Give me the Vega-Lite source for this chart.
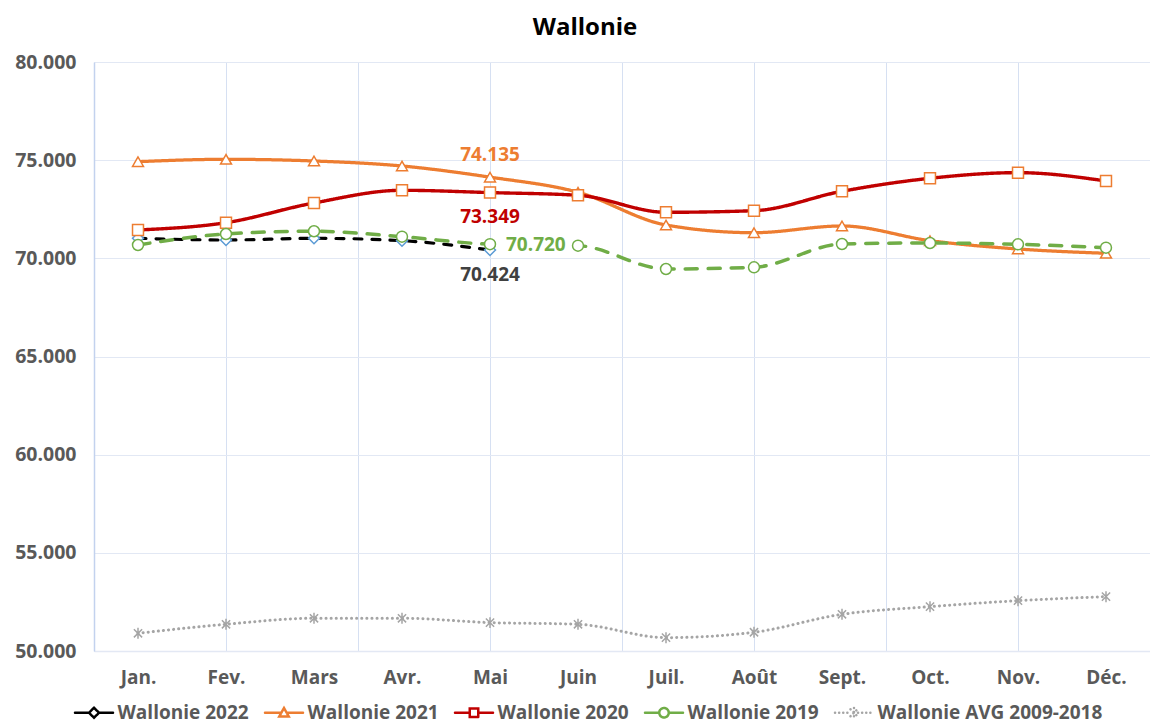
{
  "$schema": "https://vega.github.io/schema/vega-lite/v6.json",
  "width": 1056,
  "height": 589,
  "autosize": {"type": "none"},
  "padding": {"left": 94, "top": 62, "right": 0, "bottom": 73},
  "background": "white",
  "title": {"text": "Wallonie", "fontSize": 24, "font": "Open Sans", "fontWeight": "bold", "color": "#000000", "anchor": "middle", "frame": "group", "dx": -37, "dy": 33, "offset": 26, "baseline": "alphabetic"},
  "config": {
    "locale": {"number": {"decimal": ",", "thousands": ".", "grouping": [3], "currency": ["", " €"]}},
    "view": {"stroke": null},
    "font": "Open Sans"
  },
  "data": {"values": [
    {"series": "Wallonie 2022", "month": "Jan.", "m": 1, "value": 71020},
    {"series": "Wallonie 2022", "month": "Fev.", "m": 2, "value": 70934},
    {"series": "Wallonie 2022", "month": "Mars", "m": 3, "value": 71020},
    {"series": "Wallonie 2022", "month": "Avr.", "m": 4, "value": 70899},
    {"series": "Wallonie 2022", "month": "Mai", "m": 5, "value": 70424},
    {"series": "Wallonie 2021", "month": "Jan.", "m": 1, "value": 74924},
    {"series": "Wallonie 2021", "month": "Fev.", "m": 2, "value": 75044},
    {"series": "Wallonie 2021", "month": "Mars", "m": 3, "value": 74958},
    {"series": "Wallonie 2021", "month": "Avr.", "m": 4, "value": 74703},
    {"series": "Wallonie 2021", "month": "Mai", "m": 5, "value": 74135},
    {"series": "Wallonie 2021", "month": "Juin", "m": 6, "value": 73364},
    {"series": "Wallonie 2021", "month": "Juil.", "m": 7, "value": 71698},
    {"series": "Wallonie 2021", "month": "Août", "m": 8, "value": 71306},
    {"series": "Wallonie 2021", "month": "Sept.", "m": 9, "value": 71648},
    {"series": "Wallonie 2021", "month": "Oct.", "m": 10, "value": 70899},
    {"series": "Wallonie 2021", "month": "Nov.", "m": 11, "value": 70476},
    {"series": "Wallonie 2021", "month": "Déc.", "m": 12, "value": 70257},
    {"series": "Wallonie 2020", "month": "Jan.", "m": 1, "value": 71444},
    {"series": "Wallonie 2020", "month": "Fev.", "m": 2, "value": 71816},
    {"series": "Wallonie 2020", "month": "Mars", "m": 3, "value": 72819},
    {"series": "Wallonie 2020", "month": "Avr.", "m": 4, "value": 73465},
    {"series": "Wallonie 2020", "month": "Mai", "m": 5, "value": 73349},
    {"series": "Wallonie 2020", "month": "Juin", "m": 6, "value": 73211},
    {"series": "Wallonie 2020", "month": "Juil.", "m": 7, "value": 72345},
    {"series": "Wallonie 2020", "month": "Août", "m": 8, "value": 72427},
    {"series": "Wallonie 2020", "month": "Sept.", "m": 9, "value": 73414},
    {"series": "Wallonie 2020", "month": "Oct.", "m": 10, "value": 74077},
    {"series": "Wallonie 2020", "month": "Nov.", "m": 11, "value": 74364},
    {"series": "Wallonie 2020", "month": "Déc.", "m": 12, "value": 73939},
    {"series": "Wallonie 2019", "month": "Jan.", "m": 1, "value": 70680},
    {"series": "Wallonie 2019", "month": "Fev.", "m": 2, "value": 71240},
    {"series": "Wallonie 2019", "month": "Mars", "m": 3, "value": 71380},
    {"series": "Wallonie 2019", "month": "Avr.", "m": 4, "value": 71103},
    {"series": "Wallonie 2019", "month": "Mai", "m": 5, "value": 70720},
    {"series": "Wallonie 2019", "month": "Juin", "m": 6, "value": 70646},
    {"series": "Wallonie 2019", "month": "Juil.", "m": 7, "value": 69457},
    {"series": "Wallonie 2019", "month": "Août", "m": 8, "value": 69544},
    {"series": "Wallonie 2019", "month": "Sept.", "m": 9, "value": 70731},
    {"series": "Wallonie 2019", "month": "Oct.", "m": 10, "value": 70782},
    {"series": "Wallonie 2019", "month": "Nov.", "m": 11, "value": 70714},
    {"series": "Wallonie 2019", "month": "Déc.", "m": 12, "value": 70543},
    {"series": "Wallonie AVG 2009-2018", "month": "Jan.", "m": 1, "value": 50903},
    {"series": "Wallonie AVG 2009-2018", "month": "Fev.", "m": 2, "value": 51361},
    {"series": "Wallonie AVG 2009-2018", "month": "Mars", "m": 3, "value": 51667},
    {"series": "Wallonie AVG 2009-2018", "month": "Avr.", "m": 4, "value": 51667},
    {"series": "Wallonie AVG 2009-2018", "month": "Mai", "m": 5, "value": 51446},
    {"series": "Wallonie AVG 2009-2018", "month": "Juin", "m": 6, "value": 51361},
    {"series": "Wallonie AVG 2009-2018", "month": "Juil.", "m": 7, "value": 50680},
    {"series": "Wallonie AVG 2009-2018", "month": "Août", "m": 8, "value": 50955},
    {"series": "Wallonie AVG 2009-2018", "month": "Sept.", "m": 9, "value": 51871},
    {"series": "Wallonie AVG 2009-2018", "month": "Oct.", "m": 10, "value": 52258},
    {"series": "Wallonie AVG 2009-2018", "month": "Nov.", "m": 11, "value": 52564},
    {"series": "Wallonie AVG 2009-2018", "month": "Déc.", "m": 12, "value": 52768}
  ]},
  "encoding": {
    "x": {
      "field": "m", "type": "quantitative",
      "scale": {"domain": [0.5, 12.5], "nice": false, "zero": false},
      "axis": {
        "title": null,
        "values": [0.5, 1, 2, 3, 3.5, 4, 5, 6, 6.5, 7, 8, 9, 9.5, 10, 11, 12, 12.5],
        "labelExpr": "datum.value % 1 === 0 ? ['','Jan.','Fev.','Mars','Avr.','Mai','Juin','Juil.','Août','Sept.','Oct.','Nov.','Déc.'][datum.value] : ''",
        "ticks": false,
        "grid": true,
        "gridColor": "#d6e0f2",
        "gridWidth": 1,
        "gridOpacity": {"condition": {"test": "(datum.value - 0.5) % 1.5 === 0", "value": 1}, "value": 0},
        "domainColor": "#e3e8f4",
        "domainWidth": 1.5,
        "labelFont": "Open Sans",
        "labelFontSize": 19,
        "labelFontWeight": "bold",
        "labelColor": "#595959",
        "labelPadding": 17,
        "labelFlush": false,
        "labelOverlap": false
      }
    },
    "y": {
      "field": "value", "type": "quantitative",
      "scale": {"domain": [50000, 80000], "nice": false, "zero": false},
      "axis": {
        "title": null,
        "values": [50000, 55000, 60000, 65000, 70000, 75000, 80000],
        "format": ",.0f",
        "ticks": false,
        "grid": true,
        "gridColor": "#e2e8f4",
        "gridWidth": 1,
        "domainColor": "#c3d2ee",
        "domainWidth": 1.5,
        "labelFont": "Open Sans",
        "labelFontSize": 19.5,
        "labelFontWeight": "bold",
        "labelColor": "#595959",
        "labelPadding": 18,
        "labelFlush": false
      }
    }
  },
  "layer": [
    {
      "mark": {"type": "line", "interpolate": "monotone", "strokeCap": "round", "strokeJoin": "round"},
      "encoding": {
        "color": {
          "field": "series", "type": "nominal",
          "scale": {"domain": ["Wallonie 2022", "Wallonie 2021", "Wallonie 2020", "Wallonie 2019", "Wallonie AVG 2009-2018"], "range": ["#000000", "#ed7d31", "#c00000", "#70ad47", "#a5a5a5"]},
          "legend": {
            "orient": "none", "legendX": -9.5, "legendY": 641,
            "direction": "horizontal", "columns": 5, "title": null,
            "padding": 0,
            "symbolSize": 100, "symbolStrokeWidth": 2.5,
            "labelOffset": 14, "columnPadding": 10,
            "labelFont": "Open Sans", "labelFontSize": 19, "labelFontWeight": "bold", "labelColor": "#595959", "labelLimit": 400,
            "encode": {
              "symbols": {
                "update": {
                  "shape": {"signal": "datum.value === 'Wallonie 2022' ? 'M-3.8,0H-1M1,0H3.8M-1,0L0,-1L1,0L0,1Z' : datum.value === 'Wallonie 2021' ? 'M-3.8,0H-0.55M0.55,0H3.8M0,-0.95L0.95,0.75L-0.95,0.75Z' : datum.value === 'Wallonie 2020' ? 'M-3.8,0H-0.85M0.85,0H3.8M-0.85,-0.85H0.85V0.85H-0.85Z' : datum.value === 'Wallonie 2019' ? 'M-3.8,0H-0.95M0.95,0H3.8M-0.95,0A0.95,0.95 0 1,0 0.95,0A0.95,0.95 0 1,0 -0.95,0Z' : 'M-3.8,0H-0.8M0.8,0H3.8M-0.7,-0.7L0.7,0.7M-0.7,0.7L0.7,-0.7M0,-0.95V0.95'"},
                  "strokeDash": {"signal": "datum.value === 'Wallonie AVG 2009-2018' ? [0.1, 4] : [1, 0]"},
                  "strokeCap": {"value": "round"},
                  "fill": {"value": "white"}
                }
              }
            }
          }
        },
        "strokeDash": {
          "field": "series", "type": "nominal",
          "scale": {"range": [[12, 11], [1, 0], [1, 0], [8, 10], [0.1, 5]]},
          "legend": null
        },
        "strokeWidth": {
          "field": "series", "type": "nominal",
          "scale": {"range": [3.5, 3, 3, 3.5, 2.5]},
          "legend": null
        }
      }
    },
    {
      "transform": [{"filter": "datum.series === 'Wallonie 2019' && datum.m === 5"}],
      "mark": {"type": "point", "shape": "M0.7,-1.05H8.3V1.05H0.7Z", "size": 400, "filled": true, "fill": "white", "strokeWidth": 0, "opacity": 1, "yOffset": 1}
    },
    {
      "mark": {"type": "point", "filled": true, "fill": "white", "strokeWidth": 1.5, "size": 120, "opacity": 1},
      "encoding": {
        "shape": {
          "field": "series", "type": "nominal",
          "scale": {"range": ["circle", "square", "triangle-up", "diamond", "M-0.75,-0.75L0.75,0.75M-0.75,0.75L0.75,-0.75M0,-1V1"]},
          "legend": null
        },
        "stroke": {
          "field": "series", "type": "nominal",
          "scale": {"range": ["#70ad47", "#ed7d31", "#ed7d31", "#5b9bd5", "#a5a5a5"]},
          "legend": null
        }
      }
    },
    {
      "transform": [{"filter": "datum.series === 'Wallonie 2021' && datum.m === 5"}],
      "mark": {"type": "text", "dy": -22, "font": "Open Sans", "fontSize": 19, "fontWeight": "bold", "color": "#ed7d31"},
      "encoding": {"text": {"field": "value", "type": "quantitative", "format": ",.0f"}}
    },
    {
      "transform": [{"filter": "datum.series === 'Wallonie 2020' && datum.m === 5"}],
      "mark": {"type": "text", "dy": 24, "font": "Open Sans", "fontSize": 19, "fontWeight": "bold", "color": "#c00000"},
      "encoding": {"text": {"field": "value", "type": "quantitative", "format": ",.0f"}}
    },
    {
      "transform": [{"filter": "datum.series === 'Wallonie 2019' && datum.m === 5"}],
      "mark": {"type": "text", "dx": 16, "dy": 1, "align": "left", "font": "Open Sans", "fontSize": 19, "fontWeight": "bold", "color": "#70ad47"},
      "encoding": {"text": {"field": "value", "type": "quantitative", "format": ",.0f"}}
    },
    {
      "transform": [{"filter": "datum.series === 'Wallonie 2022' && datum.m === 5"}],
      "mark": {"type": "text", "dy": 25, "font": "Open Sans", "fontSize": 19, "fontWeight": "bold", "color": "#404040"},
      "encoding": {"text": {"field": "value", "type": "quantitative", "format": ",.0f"}}
    }
  ]
}
